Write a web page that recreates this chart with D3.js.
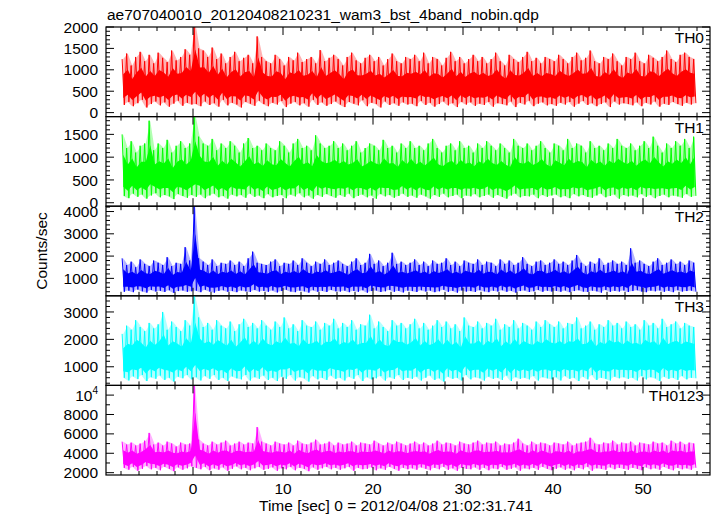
<!DOCTYPE html>
<html><head><meta charset="utf-8">
<script src="https://cdn.jsdelivr.net/npm/d3@7"></script>
<style>body{margin:0;background:#fff}svg text{font-family:"Liberation Sans",Arial,Helvetica,sans-serif;fill:#000}</style>
</head><body><svg id="c" width="717" height="516"></svg>
<script>
// Time bins (sec) : first bin start and width
const binStart = -8.0, binWidth = 0.5;
const titleText = "ae707040010_20120408210231_wam3_bst_4band_nobin.qdp";
const xLabel = "Time [sec] 0 = 2012/04/08 21:02:31.741";
const yLabel = "Counts/sec";
const xTickLabels = [0, 10, 20, 30, 40, 50];

const th0Hi = [1250,1380,1100,1300,1420,1200,1350,1150,1400,1280,1180,1450,1220,1300,1480,1350,
 2100,1500,1450,1300,1520,1250,1380,1150,1300,1420,1200,1280,1350,1150,1780,1300,
 1200,1150,1350,1250,1100,1300,1220,1400,1180,1250,1300,1150,1460,1200,1280,1350,
 1250,1100,1300,1400,1220,1150,1280,1350,1200,1300,1100,1250,1380,1200,1150,1300,
 1250,1350,1200,1400,1150,1300,1250,1100,1280,1420,1200,1300,1150,1250,1350,1200,
 1300,1150,1250,1400,1200,1100,1350,1250,1180,1300,1420,1200,1280,1150,1300,1250,
 1200,1350,1250,1150,1300,1400,1220,1280,1450,1200,1150,1300,1250,1380,1200,1100,
 1300,1250,1400,1200,1150,1350,1280,1200,1300,1450,1250,1180,1350,1400,1300,1250];
const th0Lo = [180,250,150,220,300,120,200,260,170,240,140,210,280,160,230,190,
 200,150,260,180,220,140,300,170,230,190,120,250,210,160,280,200,
 150,230,190,270,130,210,250,170,220,140,300,180,240,160,200,260,
 190,130,250,210,170,290,150,230,200,120,260,180,220,160,240,190,
 210,150,270,180,230,140,200,260,170,220,130,250,190,240,160,210,
 180,250,140,220,200,170,260,130,230,190,280,150,210,240,170,200,
 160,230,190,250,140,210,270,180,220,150,200,240,130,260,190,220,
 200,170,240,150,230,190,260,140,210,180,250,200,160,230,190,220];

const th1Hi = [1500,1200,1350,1100,1250,1300,1800,1150,1300,1200,1380,1100,1250,1350,1200,1300,
 1950,1450,1300,1250,1400,1150,1300,1200,1350,1250,1100,1300,1420,1200,1250,1150,
 1300,1200,1150,1350,1250,1100,1300,1400,1200,1250,1150,1480,1300,1200,1250,1350,
 1200,1300,1150,1250,1350,1100,1200,1300,1250,1150,1380,1200,1250,1100,1300,1200,
 1350,1200,1250,1150,1300,1400,1200,1100,1250,1300,1150,1350,1200,1250,1100,1300,
 1200,1350,1250,1150,1300,1200,1100,1400,1250,1200,1300,1150,1250,1350,1200,1100,
 1300,1250,1150,1400,1200,1300,1250,1100,1350,1200,1250,1150,1300,1200,1400,1250,
 1200,1300,1150,1250,1350,1200,1450,1250,1100,1300,1200,1350,1250,1400,1200,1450];
const th1Lo = [150,100,200,130,180,90,160,210,120,170,140,80,190,150,110,170,
 130,180,100,160,200,120,150,90,180,140,170,110,200,130,160,100,
 190,120,150,170,100,180,140,210,120,160,90,170,130,190,150,110,
 170,130,200,100,150,180,120,160,90,190,140,170,110,150,200,130,
 160,110,180,140,90,170,130,200,120,150,180,100,160,140,190,120,
 150,180,110,170,130,90,160,200,120,150,140,180,100,170,130,160,
 180,120,150,100,190,140,170,130,110,160,200,120,150,180,90,170,
 140,160,120,190,130,170,100,150,180,120,160,140,110,190,130,150];

const th2Hi = [1900,1600,1750,1500,1850,1650,1550,1800,1700,1600,1950,1550,1700,1650,2400,1800,
 4240,1900,1750,1600,1850,1550,1700,1650,1800,1600,1750,1550,1900,2200,1700,1650,
 1600,1750,1850,1550,1700,1650,1800,1600,1900,1700,1550,1750,1650,1850,1600,1700,
 1800,1650,1550,1750,1900,1600,1700,2100,1650,1800,1550,1700,2150,1650,1750,1600,
 1700,1850,1600,1750,1550,1800,1650,1700,1900,1600,1750,1550,1800,1700,1650,1850,
 1600,1750,1700,1550,1850,1650,1800,1600,1700,1950,1650,1550,1750,1800,1600,1700,
 1850,1650,1750,1600,1800,2050,1700,1550,1750,1650,1900,1600,1700,1800,1650,1750,
 1600,2350,1700,1800,1650,1550,1750,1900,1600,1700,1850,1650,1750,1600,1800,1700];
const th2Lo = [400,450,380,500,420,360,480,410,440,390,470,350,430,460,400,420,
 450,380,490,410,360,440,470,400,430,380,460,420,390,480,410,440,
 400,460,370,430,490,410,380,450,420,360,470,400,440,390,480,420,
 410,450,380,440,400,470,360,430,460,390,420,480,400,440,370,450,
 430,390,470,410,450,380,420,490,400,440,360,460,410,430,390,470,
 420,380,450,410,470,400,440,360,430,460,390,420,480,400,450,410,
 440,400,460,380,430,470,410,390,450,420,360,480,400,440,410,460,
 390,430,470,410,380,450,420,460,400,440,380,470,410,430,450,400];

const th3Hi = [2200,2500,2350,2700,2450,2300,2600,2400,2550,3000,2350,2650,2450,2300,2700,2500,
 3590,2800,2450,2600,2350,2700,2500,2400,2650,2300,2550,2750,2450,2600,2400,2700,
 2500,2350,2650,2450,2800,2400,2550,2300,2700,2500,2450,2650,2350,2600,2500,2750,
 2400,2600,2450,2700,2350,2550,2500,2900,2400,2650,2450,2300,2700,2500,2600,2400,
 2550,2750,2400,2600,2350,2500,2700,2450,2650,2400,2550,2300,2800,2500,2450,2650,
 2400,2600,2500,2750,2350,2550,2450,2700,2400,2600,2500,2350,2650,2450,2700,2550,
 2450,2650,2400,2600,2550,2800,2400,2500,2650,2350,2550,2450,2700,2500,2600,2400,
 2650,2450,2550,2350,2700,2500,2600,2400,2750,2450,2550,2650,2400,2600,2500,2450];
const th3Lo = [600,500,650,550,700,480,620,560,680,520,600,460,640,580,700,540,
 620,500,660,560,700,520,600,480,650,580,540,700,500,620,560,680,
 520,600,480,640,560,700,500,620,580,460,660,540,600,520,680,560,
 600,500,640,560,700,480,620,540,580,660,500,620,560,700,520,600,
 560,640,500,600,680,520,580,460,640,560,600,500,700,540,620,580,
 500,640,560,600,520,680,480,620,560,600,540,660,500,620,580,540,
 620,500,660,560,600,480,640,540,700,520,600,560,500,640,580,620,
 560,600,500,660,540,620,580,480,640,560,600,520,660,540,600,580];

const th0123Hi = [5200,4900,5100,4800,5000,5300,6100,4900,5100,4800,5200,5000,4700,5100,4900,5000,
 11000,5400,5000,4800,5200,4900,5100,5300,4800,5000,5200,4900,5100,5000,6700,5200,
 5000,4800,5200,5000,4900,5100,4800,5300,5000,4900,5100,5400,4900,5000,5200,4800,
 5100,4900,5000,5200,4800,5100,5000,4900,5300,5000,4800,5100,4900,5200,5000,4800,
 5000,5200,4900,5100,4800,5000,5300,4900,5100,5000,4800,5200,5000,4900,5100,5300,
 4900,5100,5000,5200,4800,5000,4900,5100,5500,5000,4800,5200,4900,5100,5000,4800,
 5100,5000,4900,5200,4800,5000,5100,5200,5600,5000,4900,5100,5000,5300,4900,5100,
 5000,5200,4800,5100,5000,4900,5200,5000,5100,4800,5300,5000,5200,4900,5100,5000];
const th0123Lo = [2500,2300,2600,2200,2400,2700,2350,2500,2250,2600,2400,2150,2550,2300,2450,2650,
 2500,2350,2600,2250,2450,2300,2550,2200,2400,2650,2350,2500,2250,2450,2600,2300,
 2400,2550,2200,2450,2350,2600,2250,2500,2400,2150,2550,2300,2450,2600,2350,2500,
 2300,2450,2600,2200,2500,2350,2400,2550,2250,2450,2300,2600,2400,2200,2500,2350,
 2450,2300,2550,2400,2250,2500,2350,2600,2300,2450,2200,2500,2400,2350,2550,2300,
 2500,2250,2450,2350,2600,2300,2400,2550,2200,2450,2350,2500,2300,2600,2400,2250,
 2400,2550,2300,2450,2250,2500,2350,2600,2200,2450,2400,2300,2550,2350,2500,2400,
 2300,2500,2400,2250,2550,2350,2450,2300,2600,2400,2250,2500,2350,2450,2300,2500];

const panelNames = ["TH0","TH1","TH2","TH3","TH0123"];
const panelColors = ["#ff0000","#00ff00","#0000ff","#00ffff","#ff00ff"];
const panelDomains = [[-93,2000],[-76,1890],[217,4240],[320,3590],[1760,11000]];
const panelMajor = [[0,500,1000,1500,2000],[0,500,1000,1500],[1000,2000,3000,4000],[1000,2000,3000],[2000,4000,6000,8000,10000]];
const panelMinorStep = [100,100,200,200,1000];
const panelHi = [th0Hi, th1Hi, th2Hi, th3Hi, th0123Hi];
const panelLo = [th0Lo, th1Lo, th2Lo, th3Lo, th0123Lo];

const svg = d3.select("#c");
const L = 106, R = 710, TOP = 27, BOT = 475;
const ph = (BOT - TOP) / 5;
const x = d3.scaleLinear().domain([-9.667, 57.444]).range([L, R]);
const FS = 15.5;

svg.append("text").attr("x", 107).attr("y", 20).attr("font-size", FS).text(titleText);

const xMinor = d3.range(-8, 58, 2);

panelNames.forEach((name, p) => {
  const y0 = TOP + p * ph, y1 = y0 + ph;
  const y = d3.scaleLinear().domain(panelDomains[p]).range([y1, y0]);
  const g = svg.append("g");
  const clipId = "clip" + p;
  svg.append("clipPath").attr("id", clipId).append("rect")
    .attr("x", L).attr("y", y0).attr("width", R - L).attr("height", ph);
  const bins = panelHi[p].map((h, i) => ({t: binStart + (i + 0.5) * binWidth, hi: h, lo: panelLo[p][i]}));
  const col = panelColors[p];
  // envelope (per-bin max / min) as a faint band
  const area = d3.area().x(d => x(d.t)).y0(d => y(d.lo)).y1(d => y(d.hi));
  g.append("path").attr("clip-path", `url(#${clipId})`).attr("d", area(bins))
    .attr("fill", col).attr("fill-opacity", 0.3);
  // dense band inside the envelope
  const core = d3.area().x(d => x(d.t)).y0(d => y(d.lo + (d.hi - d.lo) * 0.15)).y1(d => y(d.hi - (d.hi - d.lo) * 0.33));
  g.append("path").attr("clip-path", `url(#${clipId})`).attr("d", core(bins)).attr("fill", col);
  // data: thin spikes reaching the max and min of each bin
  const pts = [];
  bins.forEach(d => { pts.push([d.t - binWidth / 4, d.hi]); pts.push([d.t + binWidth / 4, d.lo]); });
  const line = d3.line().x(d => x(d[0])).y(d => y(d[1]));
  g.append("path").attr("clip-path", `url(#${clipId})`).attr("d", line(pts))
    .attr("fill", "none").attr("stroke", col).attr("stroke-width", 1);

  // frame
  g.append("rect").attr("x", L).attr("y", y0).attr("width", R - L).attr("height", ph)
    .attr("fill", "none").attr("stroke", "#000").attr("stroke-width", 1.2);

  // y ticks
  const [dmin, dmax] = panelDomains[p];
  const minors = d3.range(Math.ceil(dmin / panelMinorStep[p]) * panelMinorStep[p], dmax + 1, panelMinorStep[p]);
  minors.forEach(v => {
    const major = panelMajor[p].includes(v);
    const len = major ? 8 : 4;
    const yy = y(v);
    g.append("line").attr("x1", L).attr("x2", L + len).attr("y1", yy).attr("y2", yy).attr("stroke", "#000");
    g.append("line").attr("x1", R).attr("x2", R - len).attr("y1", yy).attr("y2", yy).attr("stroke", "#000");
  });
  panelMajor[p].forEach(v => {
    const t = g.append("text").attr("x", 98).attr("y", y(v)).attr("dy", "0.36em")
      .attr("text-anchor", "end").attr("font-size", FS);
    if (v === 10000) {
      t.text("10");
      t.append("tspan").attr("font-size", FS * 0.65).attr("dy", "-0.7em").text("4");
    } else t.text(v);
  });
  // x ticks top & bottom
  xMinor.forEach(v => {
    const len = v % 10 === 0 ? 8 : 4;
    const xx = x(v);
    g.append("line").attr("x1", xx).attr("x2", xx).attr("y1", y0).attr("y2", y0 + len).attr("stroke", "#000");
    g.append("line").attr("x1", xx).attr("x2", xx).attr("y1", y1).attr("y2", y1 - len).attr("stroke", "#000");
  });
  g.append("text").attr("x", 704).attr("y", y0 + 16).attr("text-anchor", "end")
    .attr("font-size", FS).text(name);
});

xTickLabels.forEach(v => {
  svg.append("text").attr("x", x(v)).attr("y", 494).attr("text-anchor", "middle")
    .attr("font-size", FS).text(v);
});
svg.append("text").attr("x", 259).attr("y", 511).attr("font-size", FS).text(xLabel);
svg.append("text").attr("transform", "translate(47,251) rotate(-90)")
  .attr("text-anchor", "middle").attr("font-size", FS).text(yLabel);
</script></body></html>
